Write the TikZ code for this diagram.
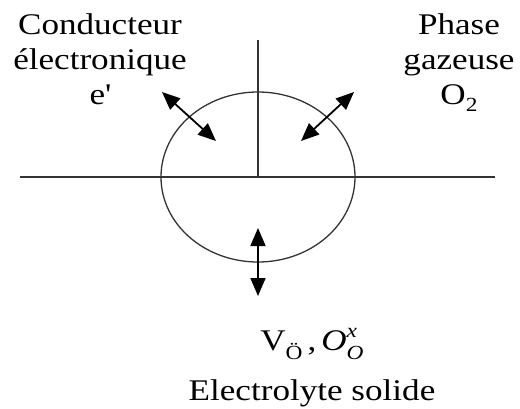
\documentclass[tikz,border=0pt]{standalone}
\usepackage{fontspec}
\setmainfont{Liberation Serif}[FakeStretch=1.17]
\usetikzlibrary{arrows.meta}
\newcommand{\smallsub}[1]{{\fontsize{20}{20}\selectfont #1}}
\begin{document}
\begin{tikzpicture}[x=1pt,y=-1pt,
  lbl/.style={inner sep=0pt, align=center, font=\fontsize{30}{35}\selectfont, anchor=north},
  axis/.style={line width=1.4pt, draw=black!80},
  dbl/.style={line width=1.8pt, {Triangle[length=18pt,width=15pt]}-{Triangle[length=18pt,width=15pt]}}]
\useasboundingbox (0,0) rectangle (520,408);
% geometry
\coordinate (vtop) at (258,40);
\coordinate (ctr) at (258,177);
\coordinate (hl) at (20,177);
\coordinate (hr) at (495,177);
\draw[axis] (vtop) -- (ctr);
\draw[axis] (hl) -- (hr);
\draw[line width=1.3pt, draw=black!80] (ctr) ellipse [x radius=97, y radius=85];
% arrows
\coordinate (la1) at (162,92);
\coordinate (la2) at (216,141);
\coordinate (ra1) at (301,141);
\coordinate (ra2) at (354,92);
\coordinate (ba1) at (258,228);
\coordinate (ba2) at (258,296);
\draw[dbl] (la1) -- (la2);
\draw[dbl] (ra1) -- (ra2);
\draw[dbl] (ba1) -- (ba2);
% labels
\node[lbl] (cond) at (100,13) {Conducteur\\électronique\\e\textquotesingle};
\node[lbl] (gaz) at (459,13) {Phase\\gazeuse\\O\raisebox{-0.25em}{\smallsub{2}}};
\node[lbl] (elec) at (312,328) {V\raisebox{-0.3em}{\smallsub{Ö}}\,,\,\textit{O}\rlap{\raisebox{0.45em}{\smallsub{\textit{x}}}}\raisebox{-0.3em}{\smallsub{\textit{O}}}\\[15pt]Electrolyte solide};
\end{tikzpicture}
\end{document}
